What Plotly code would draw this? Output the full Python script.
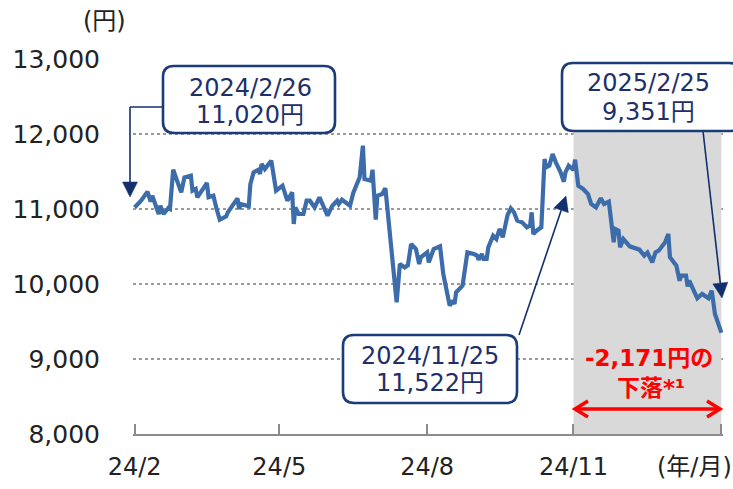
import plotly.graph_objects as go
import math

# ---------------- data ----------------
dates = [
    "2024-02-26", "2024-03-01", "2024-03-05", "2024-03-07", "2024-03-08", "2024-03-12",
    "2024-03-13", "2024-03-15", "2024-03-18", "2024-03-19", "2024-03-21", "2024-03-26",
    "2024-03-28", "2024-04-01", "2024-04-02", "2024-04-04", "2024-04-05", "2024-04-11",
    "2024-04-12", "2024-04-15", "2024-04-17", "2024-04-19", "2024-04-23", "2024-04-24",
    "2024-04-30", "2024-05-01", "2024-05-02", "2024-05-07", "2024-05-08", "2024-05-10",
    "2024-05-13", "2024-05-14", "2024-05-15", "2024-05-17", "2024-05-21", "2024-05-22",
    "2024-05-24", "2024-05-28", "2024-05-31", "2024-06-03", "2024-06-04", "2024-06-05",
    "2024-06-07", "2024-06-10", "2024-06-12", "2024-06-14", "2024-06-17", "2024-06-20",
    "2024-06-21", "2024-06-25", "2024-06-28", "2024-07-01", "2024-07-02", "2024-07-04",
    "2024-07-09", "2024-07-11", "2024-07-15", "2024-07-17", "2024-07-18", "2024-07-22",
    "2024-07-23", "2024-07-25", "2024-07-26", "2024-07-29", "2024-07-31", "2024-08-07",
    "2024-08-09", "2024-08-12", "2024-08-14", "2024-08-16", "2024-08-19", "2024-08-21",
    "2024-08-22", "2024-08-26", "2024-08-27", "2024-08-29", "2024-08-30", "2024-09-03",
    "2024-09-05", "2024-09-09", "2024-09-11", "2024-09-12", "2024-09-13", "2024-09-17",
    "2024-09-18", "2024-09-20", "2024-09-24", "2024-09-26", "2024-09-27", "2024-09-29",
    "2024-09-30", "2024-10-02", "2024-10-03", "2024-10-06", "2024-10-08", "2024-10-10",
    "2024-10-11", "2024-10-12", "2024-10-14", "2024-10-15", "2024-10-17", "2024-10-19",
    "2024-10-21", "2024-10-24", "2024-10-27", "2024-10-29", "2024-10-30", "2024-10-31",
    "2024-11-02", "2024-11-05", "2024-11-07", "2024-11-08", "2024-11-10", "2024-11-12",
    "2024-11-14", "2024-11-17", "2024-11-19", "2024-11-20", "2024-11-22", "2024-11-25",
    "2024-11-26", "2024-11-28", "2024-12-01", "2024-12-04", "2024-12-06", "2024-12-09",
    "2024-12-12", "2024-12-14", "2024-12-17", "2024-12-19", "2024-12-20", "2024-12-21",
    "2024-12-23", "2024-12-24", "2024-12-26", "2024-12-30", "2025-01-05", "2025-01-08",
    "2025-01-10", "2025-01-13", "2025-01-15", "2025-01-17", "2025-01-21", "2025-01-23",
    "2025-01-24", "2025-01-28", "2025-01-30", "2025-01-31", "2025-02-03", "2025-02-04",
    "2025-02-05", "2025-02-10", "2025-02-13", "2025-02-17", "2025-02-19", "2025-02-21",
    "2025-02-25",
]
prices = [
    11020, 11110, 11230, 11097, 11177, 10933,
    11044, 10933, 11013, 11000, 11524, 11222,
    11422, 11444, 11244, 11267, 11156, 11347,
    11156, 11177, 11000, 10857, 10902, 10956,
    11142, 11000, 11067, 11036, 11333, 11489,
    11524, 11467, 11600, 11533, 11644, 11533,
    11244, 11311, 11111, 11222, 10800, 11022,
    10933, 10933, 11111, 11111, 11022, 11156,
    11111, 10911, 11044, 11111, 11067, 11124,
    11044, 11213, 11422, 11844, 11400, 11378,
    11524, 10857, 11177, 11200, 11276, 9756,
    10267, 10222, 10250, 10533, 10467, 10267,
    10356, 10422, 10289, 10400, 10467, 10502,
    10133, 9711, 9778, 9733, 9889, 9978,
    10156, 10422, 10400, 10380, 10324, 10400,
    10333, 10333, 10489, 10644, 10600, 10733,
    10690, 10622, 10822, 10920, 11009, 10956,
    10844, 10822, 10756, 10780, 10956, 10667,
    10711, 10756, 11667, 11556, 11578, 11733,
    11622, 11489, 11364, 11489, 11578, 11522,
    11658, 11311, 11267, 11200, 11067, 11022,
    11142, 11067, 11097, 10733, 10556, 10733,
    10711, 10489, 10600, 10502, 10458, 10378,
    10420, 10289, 10422, 10444, 10556, 10667,
    10356, 10244, 10044, 10111, 10111, 9969,
    10044, 9809, 9867, 9809, 9911, 9600,
    9351,
]

tick_dates = ["2024-02-26", "2024-05-26", "2024-08-26", "2024-11-25", "2025-02-25"]
tick_labels = ["24/2", "24/5", "24/8", "24/11", ""]
y_ticks = [8000, 9000, 10000, 11000, 12000, 13000]

shade_start, shade_end = "2024-11-25", "2025-02-25"
callouts = [("2024/2/26", "11,020円"), ("2025/2/25", "9,351円"), ("2024/11/25", "11,522円")]
drop_text = ["-2,171円の", "下落*¹"]

# ---------------- layout helpers (pixel -> paper) ----------------
WIDTH, HEIGHT = 733, 489
L, R, T, B = 133, 10, 59, 55
PW, PH = WIDTH - L - R, HEIGHT - T - B


def X(px):
    return (px - L) / PW


def Y(py):
    return (HEIGHT - B - py) / PH


FONT = "DejaVu Sans, Noto Sans CJK JP, sans-serif"
NAVY = "#1B3C78"
NAVY_TXT = "#1E2F6A"
ARROW = "#12306E"
LINE = "#3C6DAA"

fig = go.Figure()
fig.add_trace(go.Scatter(
    x=dates, y=prices, mode="lines",
    line=dict(color=LINE, width=4.2, shape="linear"),
    hoverinfo="skip", showlegend=False,
))

shapes = []
annotations = []

# grey shaded period
shapes.append(dict(type="rect", xref="x", yref="y", x0=shade_start, x1=shade_end,
                   y0=8000, y1=12040, fillcolor="#D9D9D9", line=dict(width=0),
                   layer="between"))


def rounded_box(x0, y0, x1, y1, r=11):
    rx, ry = r / PW, r / PH
    a, b, c, d = X(x0), X(x1), Y(y1), Y(y0)  # a left, b right, c bottom, d top
    p = (f"M{a+rx},{c} L{b-rx},{c} Q{b},{c} {b},{c+ry} L{b},{d-ry} Q{b},{d} {b-rx},{d} "
         f"L{a+rx},{d} Q{a},{d} {a},{d-ry} L{a},{c+ry} Q{a},{c} {a+rx},{c} Z")
    return dict(type="path", xref="paper", yref="paper", path=p, fillcolor="white",
                line=dict(color=NAVY, width=2.6), layer="above")


def line_px(x0, y0, x1, y1, color=ARROW, width=1.6):
    return dict(type="line", xref="paper", yref="paper", x0=X(x0), y0=Y(y0),
                x1=X(x1), y1=Y(y1), line=dict(color=color, width=width), layer="above")


def arrow_px(tx, ty, hx, hy, head_len=15, head_w=15, color=ARROW):
    dx, dy = hx - tx, hy - ty
    n = math.hypot(dx, dy)
    ux, uy = dx / n, dy / n
    bx, by = hx - ux * head_len, hy - uy * head_len
    px_, py_ = -uy, ux
    c1 = (bx + px_ * head_w / 2, by + py_ * head_w / 2)
    c2 = (bx - px_ * head_w / 2, by - py_ * head_w / 2)
    tri = (f"M{X(hx)},{Y(hy)} L{X(c1[0])},{Y(c1[1])} L{X(c2[0])},{Y(c2[1])} Z")
    return [line_px(tx, ty, bx, by, color),
            dict(type="path", xref="paper", yref="paper", path=tri, fillcolor=color,
                 line=dict(color=color, width=0.5), layer="above")]


# callout 1 (2024/2/26): elbow connector
shapes.append(line_px(164, 107, 130, 107))
shapes += arrow_px(130, 107, 130, 197)
# callout 2 (2025/2/25)
shapes += arrow_px(703, 131, 722, 298)
# callout 3 (2024/11/25)
shapes += arrow_px(519, 335, 566, 196)

boxes = [(163, 66, 335, 133), (562, 63, 740, 131), (343, 335, 517, 403)]
text_pos = [(250, 88, 115), (648, 83, 112), (430, 356, 383)]
for (x0, y0, x1, y1) in boxes:
    shapes.append(rounded_box(x0, y0, x1, y1))
for (l1, l2), (cx, y1_, y2_) in zip(callouts, text_pos):
    for txt, yy in ((l1, y1_), (l2, y2_)):
        annotations.append(dict(xref="paper", yref="paper", x=X(cx), y=Y(yy), text=txt,
                                showarrow=False, xanchor="center", yanchor="middle",
                                font=dict(family=FONT, size=24, color=NAVY_TXT)))

# red drop text and double arrow
annotations.append(dict(xref="paper", yref="paper", x=X(649), y=Y(358), text=f"<b>{drop_text[0]}</b>",
                        showarrow=False, xanchor="center", yanchor="middle",
                        font=dict(family=FONT, size=23, color="#FF0000")))
annotations.append(dict(xref="paper", yref="paper", x=X(651), y=Y(388), text=f"<b>{drop_text[1]}</b>",
                        showarrow=False, xanchor="center", yanchor="middle",
                        font=dict(family=FONT, size=23, color="#FF0000")))
shapes.append(line_px(576, 409, 719, 409, color="#FF0000", width=3.5))
for sx, tip in ((1, 575), (-1, 720)):
    p = f"M{X(tip + sx*13)},{Y(401)} L{X(tip)},{Y(409)} L{X(tip + sx*13)},{Y(417)}"
    shapes.append(dict(type="path", xref="paper", yref="paper", path=p,
                       fillcolor="rgba(0,0,0,0)", line=dict(color="#FF0000", width=3.5),
                       layer="above"))

# axis unit labels
annotations.append(dict(xref="paper", yref="paper", x=X(104), y=Y(21), text="(円)",
                        showarrow=False, xanchor="center", yanchor="middle",
                        font=dict(family=FONT, size=24, color="#222222")))
annotations.append(dict(xref="paper", yref="paper", x=X(694), y=Y(467), text="(年/月)",
                        showarrow=False, xanchor="center", yanchor="middle",
                        font=dict(family=FONT, size=24, color="#222222")))

fig.update_layout(
    width=WIDTH, height=HEIGHT,
    margin=dict(l=L, r=R, t=T, b=B, pad=0),
    paper_bgcolor="white", plot_bgcolor="white",
    font=dict(family=FONT, size=24, color="#222222"),
    shapes=shapes, annotations=annotations,
    xaxis=dict(
        type="date", range=["2024-02-25", "2025-02-26"], automargin=False,
        tickmode="array", tickvals=tick_dates, ticktext=tick_labels,
        ticks="inside", ticklen=10, tickwidth=1.5, tickcolor="#8C8C8C",
        showline=True, linecolor="#8C8C8C", linewidth=1.5,
        showgrid=False, zeroline=False, ticklabelstandoff=10,
        tickfont=dict(family=FONT, size=24, color="#222222"),
    ),
    yaxis=dict(
        range=[8000, 13000], tickmode="array", tickvals=y_ticks, automargin=False,
        tickformat=",d", showgrid=True, gridcolor="#9A9A9A", gridwidth=1.5,
        griddash="dot", zeroline=False, showline=False, ticks="",
        ticklabelstandoff=32,
        tickfont=dict(family=FONT, size=25, color="#222222"),
    ),
)

fig.write_html("out.html")
